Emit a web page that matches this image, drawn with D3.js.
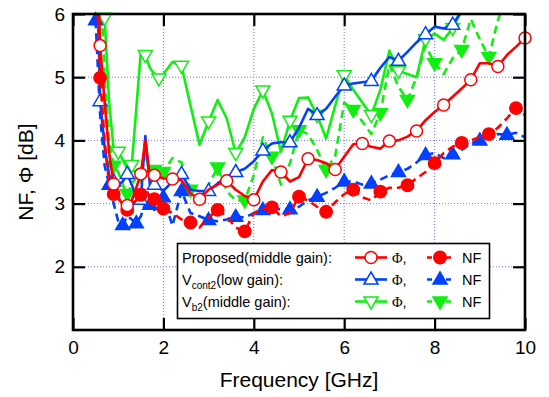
<!DOCTYPE html>
<html><head><meta charset="utf-8">
<script src="https://cdn.jsdelivr.net/npm/d3@7"></script>
<style>body{margin:0;background:#fff} svg{display:block}</style>
</head><body><svg id="c" width="549" height="397"></svg>
<script>
// ---------- data ----------
const freqs = [0.5,0.6,0.7,0.8,0.9,1.0,1.1,1.2,1.3,1.4,1.5,1.6,1.7,1.8,1.9,2.0,
  2.2,2.4,2.6,2.8,3.0,3.2,3.4,3.6,3.8,4.0,4.2,4.4,4.6,4.8,5.0,5.2,5.4,5.6,5.8,6.0,
  6.2,6.4,6.6,6.8,7.0,7.2,7.4,7.6,7.8,8.0,8.2,8.4,8.6,8.8,9.0,9.2,9.4,9.6,9.8,10.0];

// Proposed (middle gain)
const propPhi = [8.0,5.5,4.6,3.8,3.31,3.1,2.98,2.97,3.05,3.25,3.47,4.0,3.45,3.45,3.42,3.4,
  3.39,3.37,3.16,3.07,3.22,3.3,3.36,3.22,3.12,3.06,3.35,3.53,3.5,3.35,3.42,3.71,3.69,3.64,3.54,3.74,
  3.94,3.95,3.9,3.87,3.99,4.0,4.06,4.15,4.32,4.45,4.56,4.69,4.82,4.96,5.22,5.22,5.17,5.35,5.48,5.62];
const propNF = [7.0,4.99,4.0,3.3,3.15,3.1,2.95,2.9,3.0,3.05,3.14,3.25,3.1,3.07,3.0,2.92,
  2.85,2.75,2.7,2.62,2.78,2.9,2.8,2.62,2.56,2.85,2.92,2.94,2.8,2.85,3.11,3.05,2.95,2.87,3.02,3.15,
  3.22,3.1,3.05,3.19,3.25,3.25,3.29,3.4,3.5,3.64,3.8,3.9,3.96,4.0,4.05,4.1,4.2,4.35,4.51,4.4];
const propPhiMarks = [0.6,0.9,1.2,1.5,1.8,2.2,2.8,3.4,4.0,4.6,5.2,5.8,6.4,7.0,7.6,8.2,8.8,9.4,10.0];
const propNFMarks  = [0.6,0.9,1.2,1.5,1.8,2.0,2.6,3.2,3.8,4.4,5.0,5.6,6.2,6.8,7.4,8.0,8.6,9.2,9.8];

// Vcont2 (low gain)
const vcPhi = [8.0,4.62,3.9,3.45,3.35,3.3,3.35,3.47,3.3,3.1,3.06,4.07,3.3,3.3,3.25,3.2,
  3.35,3.47,3.22,3.2,3.2,3.32,3.42,3.5,3.55,3.67,3.84,3.95,3.97,3.97,4.2,4.5,4.4,4.5,4.69,4.87,
  4.9,4.92,4.94,5.15,5.32,5.26,5.4,5.55,5.68,5.8,5.77,5.83,6.05,6.3,null,null,null,null,null,null];
const vcNF = [5.9,4.4,3.6,3.3,3.0,2.72,2.66,2.8,2.75,2.69,2.8,3.0,2.98,2.9,2.95,3.1,
  2.65,3.2,2.85,2.8,2.74,2.72,2.75,2.79,2.78,2.85,2.9,2.95,2.9,2.91,2.95,3.05,3.11,3.17,3.25,3.35,
  3.35,3.3,3.32,3.38,3.45,3.5,3.55,3.65,3.77,3.8,3.72,3.78,3.85,3.95,4.0,4.05,4.1,4.09,4.12,4.05];
const vcPhiMarks = [0.6,0.9,1.2,1.5,1.8,2.4,3.0,3.6,4.2,4.8,5.4,6.0,6.6,7.2,7.8,8.4];
const vcNFMarks  = [0.5,0.8,1.1,1.4,1.7,2.0,2.4,3.0,3.6,4.2,4.8,5.4,6.0,6.6,7.2,7.8,8.4,9.0,9.6];

// Vb2 (middle gain)
const vbPhi = [null,null,5.94,4.6,3.85,3.82,3.7,3.55,3.61,4.5,5.4,5.35,5.15,5.05,4.98,5.05,
  5.24,5.18,4.55,3.93,4.3,4.64,4.35,3.8,4.05,4.5,4.79,4.43,3.82,4.31,4.67,4.68,4.4,4.03,4.55,5.03,
  4.8,4.6,4.4,4.8,5.42,5.1,5.05,5.0,5.6,5.69,5.59,5.78,6.05,6.3,null,null,null,null,null,null];
const vbNF = [null,6.8,5.0,4.0,3.6,3.5,3.3,3.15,3.3,3.42,3.45,3.8,3.5,3.53,3.5,3.5,
  3.72,3.65,3.22,3.0,3.3,3.57,3.2,3.05,3.05,3.45,4.05,3.74,3.3,3.64,4.16,4.1,3.85,3.53,3.75,4.6,
  4.48,4.3,4.1,4.43,5.2,4.85,4.64,5.0,5.5,5.22,5.05,5.3,5.43,5.92,5.6,5.32,5.9,6.3,null,null];
const vbPhiMarks = [0.7,1.0,1.3,1.6,1.9,2.4,3.0,3.6,4.2,4.8,5.4,6.0,6.6,7.2,7.8,8.4];
const vbNFMarks  = [0.9,1.2,1.5,1.8,2.0,2.6,3.2,3.8,4.4,5.0,5.6,6.2,6.8,7.4,8.0,8.6,9.2];

const xTicks = [0,2,4,6,8,10];
const yTicks = [2,3,4,5,6];
const xLabel = "Frequency [GHz]";
const yLabel = "NF, \u03A6 [dB]";
const legendNames = [["Proposed(middle gain):", ""], ["V","cont2","(low gain):"], ["V","b2","(middle gain):"]];

// ---------- drawing ----------
const RED = "#ff0000", BLUE = "#0040ff", GREEN = "#11ee11";
const svg = d3.select("#c");
const x = d3.scaleLinear().domain([0,10]).range([73,525]);
const y = d3.scaleLinear().domain([1,6]).range([330,14]);
const FONT = "'Liberation Sans', Arial, Helvetica, sans-serif";

svg.append("defs").append("clipPath").attr("id","clip")
  .append("rect").attr("x",73).attr("y",14).attr("width",452).attr("height",316);

// grid
const grid = svg.append("g").attr("stroke","#7070ff").attr("stroke-width",1).attr("stroke-dasharray","1,2");
grid.selectAll(".gx").data(xTicks.slice(1,-1)).join("line")
  .attr("x1",d=>x(d)).attr("x2",d=>x(d)).attr("y1",y(6)).attr("y2",y(1));
grid.selectAll(".gy").data(yTicks.slice(0,-1)).join("line")
  .attr("x1",x(0)).attr("x2",x(10)).attr("y1",d=>y(d)).attr("y2",d=>y(d));

// axes with inward ticks
const T = 12;
const axB = svg.append("g").attr("transform",`translate(0,${y(1)})`)
  .call(d3.axisBottom(x).tickValues(xTicks).tickSize(-T).tickPadding(11).tickFormat(d3.format("d")));
const axL = svg.append("g").attr("transform",`translate(${x(0)},0)`)
  .call(d3.axisLeft(y).tickValues(yTicks).tickSize(-T).tickPadding(8).tickFormat(d3.format("d")));
const axT = svg.append("g").attr("transform",`translate(0,${y(6)})`)
  .call(d3.axisTop(x).tickValues(xTicks).tickSize(-T).tickFormat(""));
const axR = svg.append("g").attr("transform",`translate(${x(10)},0)`)
  .call(d3.axisRight(y).tickValues(yTicks).tickSize(-T).tickFormat(""));
[axB,axL,axT,axR].forEach(a=>{
  a.select(".domain").remove();
  a.selectAll(".tick line").attr("stroke","#000").attr("stroke-width",2.2);
  a.selectAll("text").attr("font-family",FONT).attr("font-size",19).attr("fill","#000");
});

// series
const series = [
  {vals: vbNF,  marks: vbNFMarks,  color: GREEN, dash: true,  shape: "down", filled: true},
  {vals: vbPhi, marks: vbPhiMarks, color: GREEN, dash: false, shape: "down", filled: false},
  {vals: vcNF,  marks: vcNFMarks,  color: BLUE,  dash: true,  shape: "up",   filled: true},
  {vals: vcPhi, marks: vcPhiMarks, color: BLUE,  dash: false, shape: "up",   filled: false},
  {vals: propNF,  marks: propNFMarks,  color: RED, dash: true,  shape: "circle", filled: true},
  {vals: propPhi, marks: propPhiMarks, color: RED, dash: false, shape: "circle", filled: false},
];

function shapePath(shape){
  if(shape==="up") return "M0,-7.5L7,4.5L-7,4.5Z";
  if(shape==="down") return "M0,7.5L7,-4.5L-7,-4.5Z";
  return d3.symbol(d3.symbolCircle, 113)();
}
function drawMarker(g, s, cx, cy){
  const r = s.shape==="circle" ? (s.filled?6.2:6) : 0;
  let el;
  if(s.shape==="circle") el = g.append("circle").attr("cx",cx).attr("cy",cy).attr("r",r);
  else el = g.append("path").attr("d",shapePath(s.shape)).attr("transform",`translate(${cx},${cy})`);
  el.attr("fill", s.filled ? s.color : "#fff").attr("stroke", s.color).attr("stroke-width", 1.5);
  return el;
}

const line = d3.line().defined(d=>d[1]!==null).x(d=>x(d[0])).y(d=>y(d[1]));
const plotG = svg.append("g");
series.forEach(s=>{
  const pts = freqs.map((f,i)=>[f,s.vals[i]]);
  plotG.append("path").datum(pts).attr("d",line).attr("clip-path","url(#clip)")
    .attr("fill","none").attr("stroke",s.color).attr("stroke-width",2.6)
    .attr("stroke-linejoin","round")
    .attr("stroke-dasharray", s.dash ? "8,5" : null);
  const mg = plotG.append("g");
  s.marks.forEach(f=>{
    const i = freqs.findIndex(v=>Math.abs(v-f)<1e-9);
    const v = s.vals[i];
    if(v===null || v>6.05 || v<1) return;
    drawMarker(mg, s, x(f), y(v));
  });
});

// frame
svg.append("rect").attr("x",x(0)).attr("y",y(6)).attr("width",x(10)-x(0)).attr("height",y(1)-y(6))
  .attr("fill","none").attr("stroke","#000").attr("stroke-width",2.6);

// axis labels
svg.append("text").attr("x",299).attr("y",387).attr("text-anchor","middle")
  .attr("font-family",FONT).attr("font-size",21).text(xLabel);
svg.append("text").attr("transform","translate(33,172) rotate(-90)").attr("text-anchor","middle")
  .attr("font-family",FONT).attr("font-size",21).text(yLabel);

// legend
const lg = svg.append("g");
lg.append("rect").attr("x",177.5).attr("y",243.5).attr("width",312).attr("height",75)
  .attr("fill","#fff").attr("stroke","#000").attr("stroke-width",1.6);
const rowY = [257.5, 279.5, 301.5];
const legendSeries = [[series[5],series[4]],[series[3],series[2]],[series[1],series[0]]];
legendNames.forEach((nm,k)=>{
  const t = lg.append("text").attr("x",182).attr("y",rowY[k]+5.5)
    .attr("font-family",FONT).attr("font-size",14.5).attr("fill","#000");
  if(nm.length===2){ t.text(nm[0]); }
  else {
    t.append("tspan").text(nm[0]);
    t.append("tspan").attr("font-size",10).attr("dy",4).text(nm[1]);
    t.append("tspan").attr("dy",-4).text(nm[2]);
  }
  const [sp, sn] = legendSeries[k];
  lg.append("line").attr("x1",355).attr("x2",387).attr("y1",rowY[k]).attr("y2",rowY[k])
    .attr("stroke",sp.color).attr("stroke-width",2.6);
  drawMarker(lg, sp, 371, rowY[k]);
  const tp = lg.append("text").attr("x",392).attr("y",rowY[k]+5.5)
    .attr("font-size",14.5).attr("fill","#000");
  tp.append("tspan").attr("font-family","'Liberation Serif', 'Times New Roman', serif").text("\u03A6");
  tp.append("tspan").attr("font-family",FONT).text(",");
  lg.append("line").attr("x1",427).attr("x2",454).attr("y1",rowY[k]).attr("y2",rowY[k])
    .attr("stroke",sn.color).attr("stroke-width",2.6).attr("stroke-dasharray","5,4.5");
  drawMarker(lg, sn, 440, rowY[k]);
  lg.append("text").attr("x",462).attr("y",rowY[k]+5.5).attr("font-family",FONT)
    .attr("font-size",14.5).attr("fill","#000").text("NF");
});
</script>
</body></html>
